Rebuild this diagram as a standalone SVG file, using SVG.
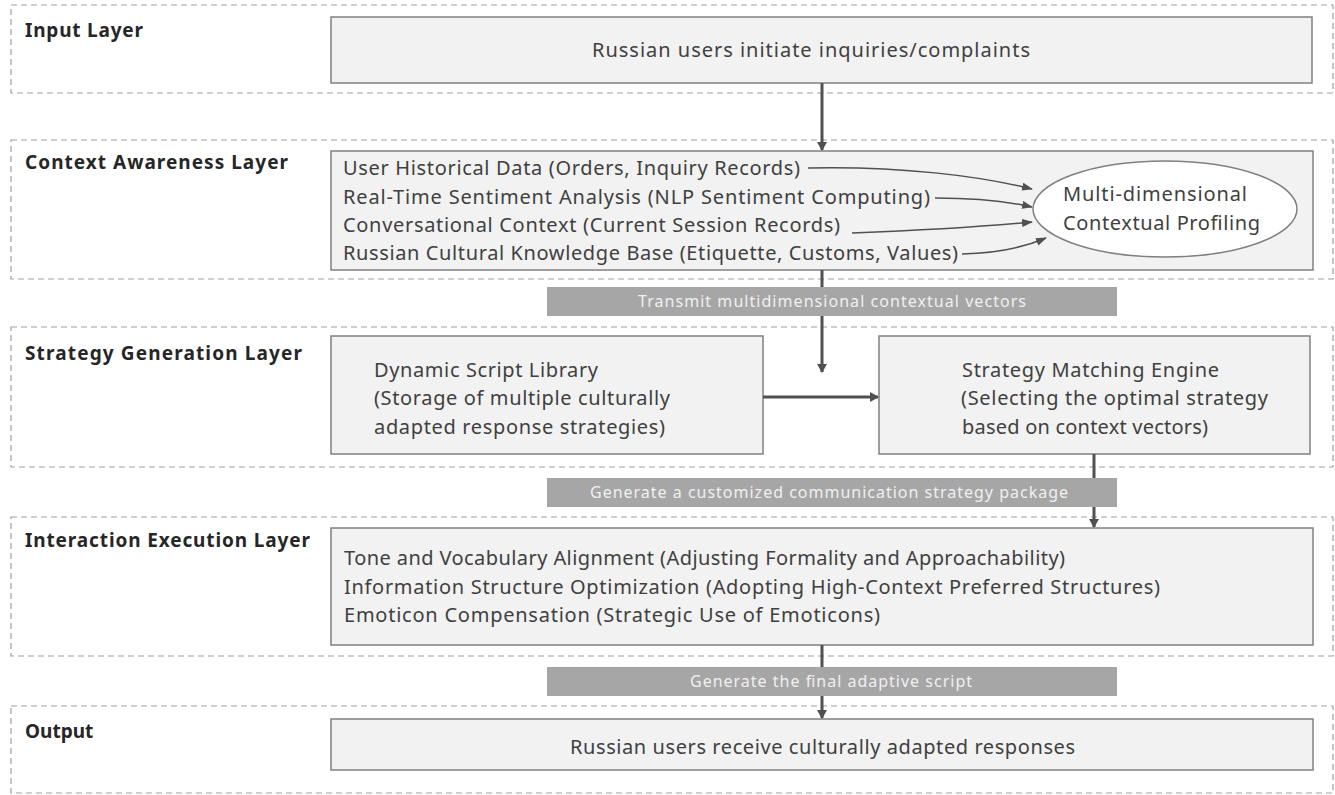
<svg xmlns="http://www.w3.org/2000/svg" width="1335" height="795" viewBox="0 0 1335 795">
<defs>
<style>
.layer{fill:#fff;stroke:#a0a0a0;stroke-width:1.2;stroke-dasharray:6 4}
.box{fill:#f2f2f2;stroke:#808080;stroke-width:1.5}
.lbl{font-family:"Noto Sans","Open Sans",sans-serif;font-weight:bold;font-size:19px;fill:#262626}
.t{font-family:"Noto Sans","Open Sans",sans-serif;font-size:20px;fill:#404040}
.band{fill:#a6a6a6}
.bt{font-family:"Noto Sans","Open Sans",sans-serif;font-size:16px;fill:#f0f0f0}
.main{stroke:#505050;stroke-width:3;fill:none}
.thin{stroke:#505050;stroke-width:1.5;fill:none}
</style>
<marker id="ah" markerWidth="10" markerHeight="10" refX="8" refY="5" orient="auto" markerUnits="userSpaceOnUse">
<path d="M0,0 L9,5 L0,10 Z" fill="#505050"/>
</marker>
<marker id="ahs" markerWidth="12" markerHeight="10" refX="10" refY="4" orient="auto" markerUnits="userSpaceOnUse">
<path d="M0,0 L11,4 L0,8 Z" fill="#505050"/>
</marker>
</defs>
<g id="layers">
<rect class="layer" x="11" y="5" width="1322" height="88"/>
<rect class="layer" x="11" y="140" width="1322" height="139"/>
<rect class="layer" x="11" y="327" width="1322" height="140"/>
<rect class="layer" x="11" y="517" width="1322" height="139"/>
<rect class="layer" x="11" y="706" width="1322" height="87"/>
<text class="lbl" x="25" y="37" textLength="118">Input Layer</text>
<text class="lbl" x="25" y="169" textLength="263">Context Awareness Layer</text>
<text class="lbl" x="25" y="360" textLength="277">Strategy Generation Layer</text>
<text class="lbl" x="25" y="547" textLength="285">Interaction Execution Layer</text>
<text class="lbl" x="25" y="738">Output</text>
</g>
<g id="input">
<rect class="box" x="331" y="17" width="981" height="66"/>
<text class="t" x="592" y="57" textLength="438">Russian users initiate inquiries/complaints</text>
</g>
<g id="context">
<rect class="box" x="331" y="151" width="982" height="119"/>
<text class="t" x="343" y="175" textLength="457">User Historical Data (Orders, Inquiry Records)</text>
<text class="t" x="343" y="204" textLength="587">Real-Time Sentiment Analysis (NLP Sentiment Computing)</text>
<text class="t" x="343" y="232" textLength="497">Conversational Context (Current Session Records)</text>
<text class="t" x="343" y="260" textLength="615">Russian Cultural Knowledge Base (Etiquette, Customs, Values)</text>
</g>
<g id="profiling">
<ellipse cx="1165" cy="209" rx="132" ry="48" fill="#fff" stroke="#808080" stroke-width="1.5"/>
<text class="t" x="1063" y="201" textLength="184">Multi-dimensional</text>
<text class="t" x="1063" y="230" textLength="197">Contextual Profiling</text>
</g>
<g id="band1">
<rect class="band" x="547" y="287" width="570" height="29"/>
<text class="bt" x="638" y="307" textLength="388">Transmit multidimensional contextual vectors</text>
</g>
<g id="library">
<rect class="box" x="331" y="336" width="432" height="118"/>
<text class="t" x="374" y="377" textLength="224">Dynamic Script Library</text>
<text class="t" x="374" y="405" textLength="296">(Storage of multiple culturally</text>
<text class="t" x="374" y="434" textLength="291">adapted response strategies)</text>
</g>
<g id="engine">
<rect class="box" x="879" y="336" width="431" height="118"/>
<text class="t" x="962" y="377" textLength="257">Strategy Matching Engine</text>
<text class="t" x="961" y="405" textLength="307">(Selecting the optimal strategy</text>
<text class="t" x="962" y="434" textLength="246">based on context vectors)</text>
</g>
<g id="band2">
<rect class="band" x="547" y="478" width="570" height="29"/>
<text class="bt" x="590" y="498" textLength="478">Generate a customized communication strategy package</text>
</g>
<g id="interaction">
<rect class="box" x="331" y="528" width="982" height="117"/>
<text class="t" x="344" y="565" textLength="721">Tone and Vocabulary Alignment (Adjusting Formality and Approachability)</text>
<text class="t" x="344" y="594" textLength="816">Information Structure Optimization (Adopting High-Context Preferred Structures)</text>
<text class="t" x="344" y="622" textLength="536">Emoticon Compensation (Strategic Use of Emoticons)</text>
</g>
<g id="band3">
<rect class="band" x="547" y="667" width="570" height="29"/>
<text class="bt" x="690" y="687" textLength="282">Generate the final adaptive script</text>
</g>
<g id="output">
<rect class="box" x="331" y="719" width="982" height="51"/>
<text class="t" x="570" y="754" textLength="505">Russian users receive culturally adapted responses</text>
</g>
<g id="connectors">
<line class="main" x1="822" y1="83" x2="822" y2="150" marker-end="url(#ah)"/>
<line class="main" x1="822" y1="270" x2="822" y2="287"/>
<line class="main" x1="822" y1="316" x2="822" y2="372" marker-end="url(#ah)"/>
<line class="main" x1="763" y1="397" x2="878" y2="397" marker-end="url(#ah)"/>
<line class="main" x1="1094" y1="454" x2="1094" y2="478"/>
<line class="main" x1="1094" y1="507" x2="1094" y2="527" marker-end="url(#ah)"/>
<line class="main" x1="822" y1="645" x2="822" y2="667"/>
<line class="main" x1="822" y1="696" x2="822" y2="718" marker-end="url(#ah)"/>
<path class="thin" d="M808,168 C900,166 980,176 1032,189" marker-end="url(#ahs)"/>
<path class="thin" d="M935,198 C980,198 1010,202 1032,207" marker-end="url(#ahs)"/>
<path class="thin" d="M852,233 C930,230 990,226 1032,222" marker-end="url(#ahs)"/>
<path class="thin" d="M962,254 C1000,253 1025,247 1046,238" marker-end="url(#ahs)"/>
</g>
</svg>
